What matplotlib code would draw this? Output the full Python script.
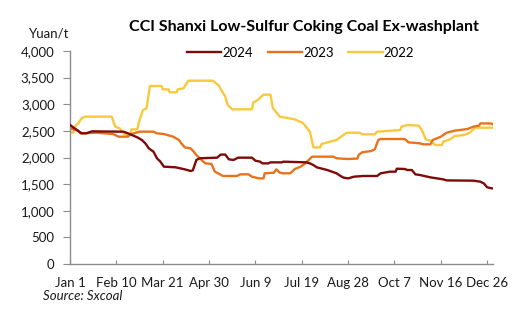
import matplotlib
matplotlib.use("Agg")
import matplotlib.pyplot as plt

plt.rcParams['font.family'] = ['Lato', 'DejaVu Sans']

# Day of year (0 = Jan 1) and price in Yuan/t
days_2024 = [0, 4, 10, 14, 19, 46, 50, 58, 62, 65, 68, 72, 75, 78, 81, 91, 99, 104, 106, 109,
             112, 127, 130, 134, 137, 141, 145, 157, 160, 164, 166, 171, 173, 183, 184, 204,
             207, 210, 213, 222, 226, 230, 233, 236, 240, 245, 253, 265, 268, 276, 281, 282,
             289, 291, 295, 298, 302, 311, 322, 325, 348, 354, 357, 360, 364]
price_2024 = [2610, 2547, 2454, 2454, 2491, 2485, 2454, 2379, 2329, 2266, 2172, 2110, 1986, 1922,
              1828, 1816, 1778, 1747, 1760, 1953, 1986, 1997, 2055, 2055, 1966, 1953, 1997, 1997,
              1940, 1922, 1890, 1890, 1909, 1909, 1922, 1909, 1890, 1859, 1815, 1765, 1734, 1703,
              1659, 1622, 1608, 1640, 1653, 1653, 1703, 1734, 1734, 1790, 1784, 1765, 1765, 1684,
              1671, 1627, 1590, 1570, 1565, 1546, 1515, 1440, 1421]

days_2023 = [0, 7, 9, 23, 37, 42, 50, 52, 60, 72, 75, 81, 84, 89, 94, 96, 99, 104, 106, 109, 112,
             115, 117, 122, 125, 132, 144, 147, 154, 157, 163, 167, 168, 176, 178, 181, 184, 190,
             194, 199, 203, 206, 209, 227, 230, 239, 248, 249, 252, 260, 263, 266, 268, 289, 292,
             302, 305, 311, 313, 320, 325, 332, 343, 348, 353, 354, 363, 365]
price_2023 = [2547, 2504, 2454, 2466, 2441, 2391, 2391, 2435, 2485, 2485, 2454, 2441, 2423, 2391,
              2329, 2266, 2191, 2172, 2128, 2047, 1986, 1922, 1890, 1880, 1734, 1653, 1653, 1684,
              1684, 1640, 1608, 1608, 1703, 1715, 1778, 1715, 1703, 1703, 1784, 1828, 1890, 1953,
              2016, 2016, 1986, 1972, 1980, 2047, 2097, 2122, 2154, 2329, 2347, 2347, 2285, 2266,
              2247, 2247, 2329, 2391, 2466, 2504, 2535, 2579, 2598, 2640, 2640, 2622]

days_2022 = [0, 3, 4, 7, 10, 13, 36, 39, 43, 46, 49, 52, 53, 58, 60, 63, 66, 68, 69, 79, 80, 85,
             86, 92, 93, 98, 102, 123, 128, 134, 136, 140, 157, 158, 162, 167, 173, 175, 181, 194,
             201, 207, 210, 216, 217, 230, 236, 239, 250, 252, 263, 265, 285, 286, 291, 301, 304,
             307, 311, 315, 321, 322, 328, 332, 340, 345, 348, 350, 365]
price_2022 = [2480, 2466, 2579, 2641, 2736, 2767, 2767, 2579, 2547, 2454, 2423, 2430, 2529, 2529,
              2704, 2892, 2923, 3205, 3343, 3343, 3280, 3280, 3224, 3224, 3280, 3299, 3443, 3443,
              3361, 3143, 2986, 2905, 2905, 3030, 3080, 3180, 3180, 2930, 2767, 2717, 2648, 2485,
              2191, 2191, 2254, 2329, 2423, 2466, 2466, 2436, 2436, 2485, 2516, 2579, 2610, 2598,
              2500, 2341, 2316, 2235, 2235, 2298, 2341, 2404, 2423, 2466, 2529, 2560, 2560]

tick_days = [0, 40, 80, 120, 160, 200, 240, 280, 320, 360]
tick_labels = ["Jan 1", "Feb 10", "Mar 21", "Apr 30", "Jun 9", "Jul 19", "Aug 28",
               "Oct 7", "Nov 16", "Dec 26"]
y_ticks = [0, 500, 1000, 1500, 2000, 2500, 3000, 3500, 4000]

fig = plt.figure(figsize=(5.32, 3.22), dpi=100)
ax = fig.add_axes([0.1316, 0.1801, 0.7951, 0.6615])

ax.plot(days_2024, price_2024, color="#7E0A0A", lw=1.7, label="2024", zorder=3)
ax.plot(days_2023, price_2023, color="#E8731C", lw=1.7, label="2023", zorder=2)
ax.plot(days_2022, price_2022, color="#F8C93D", lw=1.7, label="2022", zorder=1)

ax.set_xlim(0, 365)
ax.set_ylim(0, 4000)
ax.set_xticks(tick_days)
ax.set_xticklabels(tick_labels)
ax.set_yticks(y_ticks)
ax.set_yticklabels([f"{v:,}" for v in y_ticks])

for side in ("top", "right"):
    ax.spines[side].set_visible(False)
for side in ("left", "bottom"):
    ax.spines[side].set_color("#8C8C8C")
    ax.spines[side].set_linewidth(1.0)

ax.tick_params(axis="y", direction="out", length=5, color="#8C8C8C",
               labelsize=9.5, pad=6, labelcolor="#1a1a1a")
ax.tick_params(axis="x", direction="in", length=3, color="#8C8C8C",
               labelsize=9.5, pad=9, labelcolor="#1a1a1a")

fig.text(0.571, 0.916, "CCI Shanxi Low-Sulfur Coking Coal Ex-washplant",
         ha="center", va="center", fontsize=11.5, fontweight="bold", color="#000000")
fig.text(0.131, 0.897, "Yuan/t", ha="right", va="center", fontsize=9.5, color="#1a1a1a")
fig.text(0.081, 0.081, "Source: Sxcoal", ha="left", va="center", fontsize=9.5,
         style="italic", color="#1a1a1a")

fig.legend(loc="center", bbox_to_anchor=(0.565, 0.836), ncol=3, frameon=False,
           fontsize=9.5, handlelength=2.6, handletextpad=0.1, columnspacing=1.1)

fig.savefig("out.png", dpi=100)
